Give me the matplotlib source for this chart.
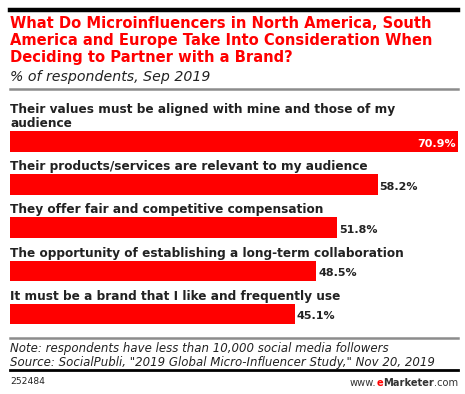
import matplotlib
matplotlib.use("Agg")
import matplotlib.pyplot as plt
from matplotlib.offsetbox import HPacker, TextArea, AnchoredOffsetbox

categories = [
    "Their values must be aligned with mine and those of my\naudience",
    "Their products/services are relevant to my audience",
    "They offer fair and competitive compensation",
    "The opportunity of establishing a long-term collaboration",
    "It must be a brand that I like and frequently use",
]
values = [70.9, 58.2, 51.8, 48.5, 45.1]
value_labels = ["70.9%", "58.2%", "51.8%", "48.5%", "45.1%"]

W, H = 465, 394
fig = plt.figure(figsize=(W / 100, H / 100), dpi=100)
fig.patch.set_facecolor("white")

def fx(px):
    return px / W

def fy(py):
    return 1 - py / H

FONT = "DejaVu Sans"
RED = "#ff0000"
DARK = "#222222"

# Top black rule
fig.add_artist(plt.Line2D([fx(10), fx(458)], [fy(10), fy(10)], color="black", lw=3.2))
# Title
title_lines = ["What Do Microinfluencers in North America, South",
               "America and Europe Take Into Consideration When",
               "Deciding to Partner with a Brand?"]
for k, line in enumerate(title_lines):
    fig.text(fx(10), fy(28.3 + k * 16.7), line, color=RED, fontsize=10.6, fontweight="bold",
             family=FONT, va="baseline", ha="left")
fig.text(fx(10), fy(81), "% of respondents, Sep 2019", color=DARK, fontsize=10.2,
         style="italic", family=FONT, va="baseline", ha="left")
fig.add_artist(plt.Line2D([fx(10), fx(458)], [fy(89), fy(89)], color="#8c8c8c", lw=1.8))

# Bars axes (pixel units in y)
ax = fig.add_axes([fx(10), fy(394), fx(458) - fx(10), 1.0])
ax.set_xlim(0, max(values))
ax.set_ylim(394, 0)
ax.axis("off")

centers = [141.5 + i * 43.1 for i in range(len(values))]
bar_h = 20.5
ax.barh(centers, values, height=bar_h, color=RED, edgecolor="none")

for i, (c, v, lab, cat) in enumerate(zip(centers, values, value_labels, categories)):
    lines = cat.split("\n")
    n = len(lines)
    for k, line in enumerate(lines):
        ax.text(0, c - bar_h / 2 - 4 - (n - 1 - k) * 14, line, ha="left", va="baseline",
                fontsize=8.72, fontweight="bold", color=DARK, family=FONT)
    if i == 0:
        ax.text(v - 0.3, c + 5, lab, ha="right", va="baseline", fontsize=8.0,
                fontweight="bold", color="white", family=FONT)
    else:
        ax.text(v + 0.3, c + 5, lab, ha="left", va="baseline", fontsize=8.0,
                fontweight="bold", color=DARK, family=FONT)

# Bottom
fig.add_artist(plt.Line2D([fx(10), fx(458)], [fy(338), fy(338)], color="#8c8c8c", lw=1.8))
fig.text(fx(10), fy(352), "Note: respondents have less than 10,000 social media followers",
         color=DARK, fontsize=8.5, style="italic", family=FONT, va="baseline", ha="left")
fig.text(fx(10), fy(366), "Source: SocialPubli, \"2019 Global Micro-Influencer Study,\" Nov 20, 2019",
         color=DARK, fontsize=8.45, style="italic", family=FONT, va="baseline", ha="left")
fig.add_artist(plt.Line2D([fx(10), fx(458)], [fy(370), fy(370)], color="black", lw=2))
fig.text(fx(10), fy(384), "252484", color=DARK, fontsize=6.6, family=FONT, va="baseline", ha="left")

parts = [
    TextArea("www.", textprops=dict(color="#333333", fontsize=7.1, family=FONT)),
    TextArea("e", textprops=dict(color=RED, fontsize=7.1, family=FONT, fontweight="bold")),
    TextArea("Marketer", textprops=dict(color="#333333", fontsize=7.1, family=FONT, fontweight="bold")),
    TextArea(".com", textprops=dict(color="#333333", fontsize=7.1, family=FONT)),
]
box = HPacker(children=parts, align="baseline", pad=0, sep=0)
ab = AnchoredOffsetbox(loc="lower right", child=box, pad=0, frameon=False,
                       bbox_to_anchor=(fx(458), fy(388)), bbox_transform=fig.transFigure,
                       borderpad=0)
fig.add_artist(ab)

fig.savefig("out.png", dpi=100)
